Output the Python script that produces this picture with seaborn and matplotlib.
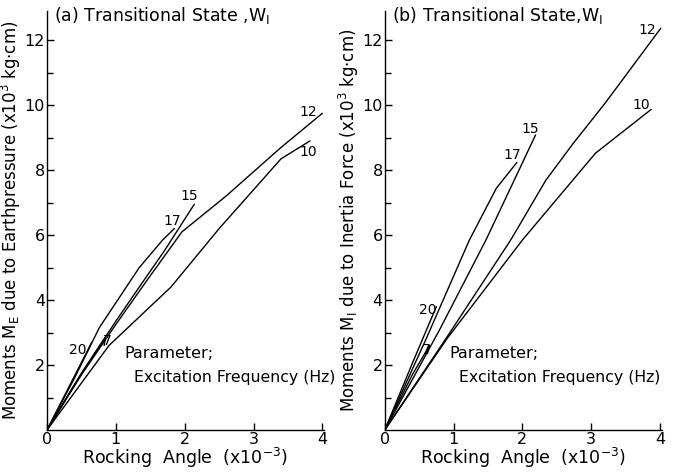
import numpy as np
import pandas as pd
import matplotlib
matplotlib.use("Agg")
import matplotlib.pyplot as plt
import seaborn as sns

sns.set_theme(style="white")
plt.rcParams['font.family'] = ['DejaVu Sans']
plt.rcParams['text.color'] = 'black'
plt.rcParams['axes.labelcolor'] = 'black'
plt.rcParams['xtick.color'] = 'black'
plt.rcParams['ytick.color'] = 'black'

# Panel (a): moments due to earth pressure
a_freqs = ["10", "12", "15", "17", "20", "7"]
a10_x = [0, 0.9, 1.8, 2.5, 3.4, 3.82]
a10_y = [0, 2.6, 4.4, 6.2, 8.35, 8.9]
a12_x = [0, 0.5, 1.0, 1.45, 1.96, 2.6, 3.4, 4.0]
a12_y = [0, 1.7, 3.25, 4.6, 6.1, 7.2, 8.7, 9.75]
a15_x = [0, 0.5, 1.0, 1.34, 1.7, 2.14]
a15_y = [0, 1.75, 3.35, 4.4, 5.5, 6.95]
a17_x = [0, 0.4, 0.76, 1.34, 1.68, 1.85]
a17_y = [0, 1.6, 3.15, 5.0, 5.85, 6.2]
a20_x = [0, 0.3, 0.65]
a20_y = [0, 1.25, 2.7]
a7_x = [0, 0.4, 0.8, 0.85, 0.83]
a7_y = [0, 1.4, 2.7, 2.85, 2.6]

# Panel (b): moments due to inertia force
b10_x = [0, 0.9, 2.0, 3.06, 3.87]
b10_y = [0, 2.8, 5.85, 8.52, 9.87]
b12_x = [0, 0.9, 1.83, 2.34, 2.74, 3.2, 4.01]
b12_y = [0, 2.85, 5.85, 7.69, 8.83, 10.06, 12.37]
b15_x = [0, 0.8, 1.47, 2.19]
b15_y = [0, 3.1, 5.85, 9.08]
b17_x = [0, 0.6, 1.23, 1.62, 1.92]
b17_y = [0, 2.8, 5.85, 7.44, 8.24]
b20_x = [0, 0.4, 0.75]
b20_y = [0, 2.05, 3.8]
b7_x = [0, 0.4, 0.65, 0.62]
b7_y = [0, 1.7, 2.6, 2.35]

a_curves = [(a10_x, a10_y), (a12_x, a12_y), (a15_x, a15_y),
            (a17_x, a17_y), (a20_x, a20_y), (a7_x, a7_y)]
b_curves = [(b10_x, b10_y), (b12_x, b12_y), (b15_x, b15_y),
            (b17_x, b17_y), (b20_x, b20_y), (b7_x, b7_y)]

# label positions (data coords)
a_lab = {"12": (3.8, 9.8), "10": (3.8, 8.55), "15": (2.06, 7.2),
         "17": (1.82, 6.45), "20": (0.45, 2.45), "7": (0.88, 2.75)}
b_lab = {"12": (3.82, 12.3), "10": (3.72, 10.0), "15": (2.12, 9.28),
         "17": (1.85, 8.46), "20": (0.62, 3.7), "7": (0.6, 2.46)}

titles = ["(a) Transitional State ,W$_{\\mathrm{I}}$",
          "(b) Transitional State,W$_{\\mathrm{I}}$"]
ylabels = ["Moments M$_{\\mathrm{E}}$ due to Earthpressure (x10$^3$ kg·cm)",
           "Moments M$_{\\mathrm{I}}$ due to Inertia Force (x10$^3$ kg·cm)"]
xlabel = "Rocking  Angle  (x10$^{-3}$)"

fig = plt.figure(figsize=(6.75, 4.74), dpi=100)
axes = [fig.add_axes([0.0696, 0.0928, 0.41, 0.884]),
        fig.add_axes([0.570, 0.0928, 0.41, 0.884])]

for ax, curves, labs, title, ylab, ptx in zip(
        axes, [a_curves, b_curves], [a_lab, b_lab], titles, ylabels, [1.13, 0.94]):
    for f, (xs, ys) in zip(a_freqs, curves):
        df = pd.DataFrame({"x": xs, "y": ys})
        sns.lineplot(data=df, x="x", y="y", ax=ax, color="black", lw=1.0,
                     sort=False, estimator=None)
    for f, (lx, ly) in labs.items():
        ax.text(lx, ly, f, fontsize=10, ha="center", va="center", color="black")
    ax.text(ptx, 2.37, "Parameter;", fontsize=11.5, ha="left", va="center",
            color="black")
    ax.text(ptx + 0.14, 1.63, "Excitation Frequency (Hz)", fontsize=11.3,
            ha="left", va="center", color="black")
    ax.text(0.1, 12.75, title, fontsize=12.5, ha="left", va="center",
            color="black")
    ax.set_xlim(0, 4.02)
    ax.set_ylim(0, 12.9)
    ax.set_xticks([0, 1, 2, 3, 4])
    ax.set_xticklabels(["0", "1", "2", "3", "4"])
    ax.set_yticks([2, 4, 6, 8, 10, 12])
    ax.set_yticklabels(["2", "4", "6", "8", "10", "12"])
    ax.set_yticks([1, 3, 5, 7, 9, 11], minor=True)
    ax.tick_params(axis="both", which="major", direction="in", length=5,
                   width=1, labelsize=11.5, pad=1.5, color="black",
                   labelcolor="black")
    ax.tick_params(axis="y", which="minor", direction="in", length=4,
                   width=1, left=True, color="black")
    ax.tick_params(axis="x", which="major", bottom=True)
    ax.tick_params(axis="y", which="major", left=True)
    for s in ["top", "right"]:
        ax.spines[s].set_visible(False)
    for s in ["left", "bottom"]:
        ax.spines[s].set_color("black")
        ax.spines[s].set_linewidth(1.0)
    ax.set_xlabel(xlabel, fontsize=12.5, labelpad=-1, color="black")
    ax.set_ylabel(ylab, fontsize=12, color="black")
    ax.yaxis.set_label_coords(-0.085, 0.5)

fig.savefig("out.png", dpi=100)
